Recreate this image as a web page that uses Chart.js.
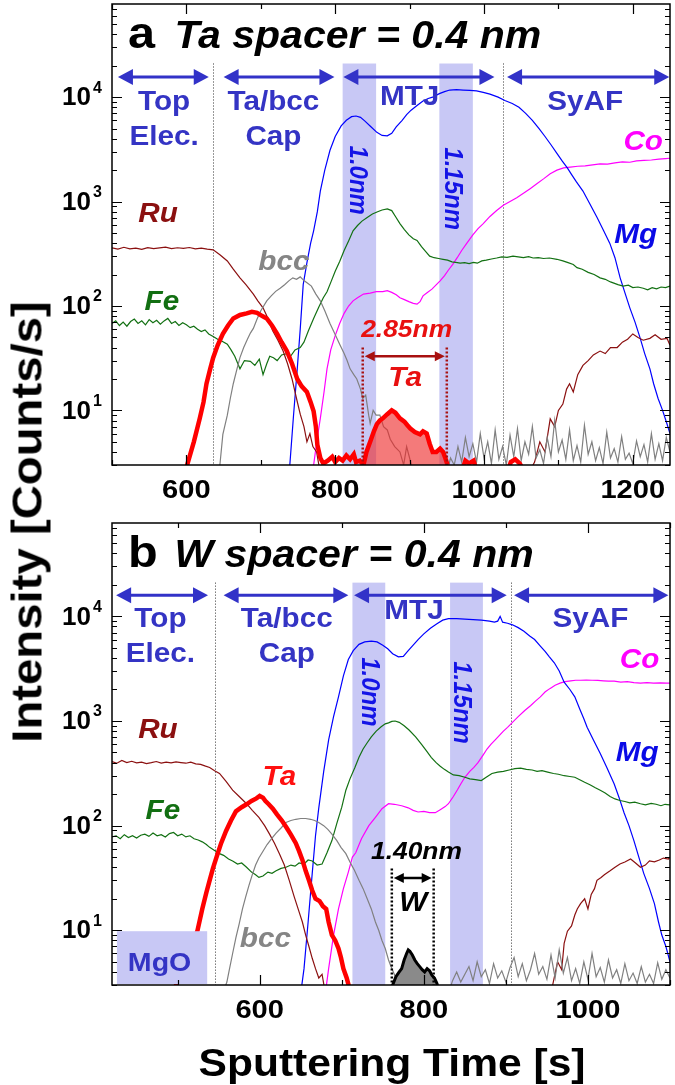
<!DOCTYPE html>
<html lang="en">
<head>
<meta charset="UTF-8">
<title>Depth profiles - Ta / W spacer</title>
<script src="https://cdn.jsdelivr.net/npm/chart.js"></script>
<style>
  body { margin: 0; background: #fff; width: 675px; height: 1085px; overflow: hidden; position: relative; font-family: 'Liberation Sans', Arial, sans-serif; }
  canvas { position: absolute; left: 0; }
  #chartA { top: 0; }
  #chartB { top: 505px; }
  .axis-title { position: absolute; font-weight: bold; color: #000; white-space: nowrap; }
  #yTitle { font-size: 43px; left: 27px; top: 522px; transform: translate(-50%, -50%) rotate(-90deg) scaleX(1.1); }
  #xTitle { font-size: 38px; left: 392px; top: 1063px; transform: translate(-50%, -50%) scaleX(1.12); }
</style>
</head>
<body>
<canvas id="chartA" width="675" height="505"></canvas>
<canvas id="chartB" width="675" height="580"></canvas>
<div class="axis-title" id="yTitle">Intensity [Counts/s]</div>
<div class="axis-title" id="xTitle">Sputtering Time [s]</div>

<script>
// ---- tick labels ----
const xTicksA = [600, 800, 1000, 1200];
const xTicksB = [600, 800, 1000];
const yTicks = [10, 100, 1000, 10000];

// ---- panel a : Ta spacer, [time s, counts/s] ----
const ruA = [[500,360],[508,350],[516,365],[524,352],[532,358],[540,348],[548,362],[556,355],[564,360],[572,366],[580,354],[588,361],[596,357],[604,363],[612,352],[620,358],[628,350],[636,345],[645,310],[655,270],[663,225],[672,186],[680,160],[690,130],[696,112],[703,96],[710,75],[716,58],[723,47],[730,37],[736,28],[742,20],[748,13],[753,9.2],[758,7],[762,5],[766,6],[770,4.5],[775,4],[780,2.5],[1060,2.5],[1068,3.2],[1075,5],[1082,4],[1089,8.3],[1095,7],[1100,10],[1106,11.5],[1111,16],[1115,18],[1120,15],[1126,22],[1133,27],[1140,30],[1147,34],[1156,37],[1163,35],[1170,40],[1179,40],[1186,45],[1193,48],[1200,54],[1207,50],[1214,47],[1223,49],[1230,53],[1238,48],[1246,49],[1250,42]];
const feA = [[500,68],[505,72],[510,65],[515,70],[520,64],[525,71],[530,75],[535,68],[540,72],[545,66],[550,74],[555,69],[560,73],[565,67],[570,72],[575,76],[580,68],[585,71],[590,65],[595,69],[600,66],[605,62],[610,64],[615,60],[620,57],[625,59],[630,54],[636,51],[642,48],[648,46],[655,43],[660,38],[665,33],[672,25],[678,30],[686,29.5],[692,27],[698,31],[703,22],[708,28],[712,33],[717,32],[722,30],[728,34],[735,35],[740,33],[746,38],[753,40],[758,45],[764,58],[771,76],[778,98],[784,120],[789,137],[795,175],[800,215],[806,267],[812,340],[818,420],[824,525],[830,590],[836,650],[843,705],[850,760],[857,800],[863,830],[870,850],[876,820],[881,720],[887,615],[893,540],[899,480],[905,440],[910,425],[916,370],[922,330],[927,300],[933,290],[939,285],[945,280],[951,275],[957,265],[962,262],[968,257],[974,260],[980,255],[986,262],[991,257],[997,270],[1003,275],[1010,282],[1017,288],[1024,295],[1031,292],[1039,300],[1046,295],[1053,290],[1060,297],[1066,288],[1073,290],[1080,285],[1088,288],[1098,280],[1106,270],[1113,260],[1120,250],[1125,233],[1132,225],[1140,210],[1148,200],[1156,186],[1163,180],[1170,170],[1180,160],[1187,155],[1194,158],[1200,150],[1207,152],[1214,148],[1220,143],[1226,150],[1232,146],[1238,152],[1244,150],[1250,155]];
const bccA = [[640,2.5],[645,3],[649,5.9],[655,9],[659,13],[663,18],[668,25],[672,32],[677,40],[682,48],[686,55],[690,61],[695,75],[700,90],[708,112],[714,125],[720,138],[726,148],[732,160],[738,175],[743,186],[748,180],[753,190],[758,175],[763,165],[768,155],[774,130],[780,112],[786,90],[793,68],[799,55],[806,43],[812,35],[816,30],[820,25],[825,22],[829,20],[834,16],[837,13],[841,14],[845,9],[847,7.5],[851,10],[855,9],[860,9],[865,7],[870,6.5],[874,5.3],[880,4.5],[887,4],[892,3],[896,4.5],[900,3.5],[905,2.5],[950,2.5],[955,3.5],[960,3],[965,4.5],[970,3.2],[975,5.5],[980,3.6],[985,4.8],[990,3.2],[995,6],[1000,3.5],[1005,5],[1010,3.1],[1015,6.5],[1020,3.4],[1025,4.5],[1030,3],[1035,5.8],[1040,3.6],[1045,6.7],[1050,3.3],[1055,5],[1060,3.8],[1065,7],[1070,3.5],[1075,4.2],[1080,3.1],[1085,5.5],[1090,3.6],[1095,8],[1100,4],[1105,5.2],[1110,3.4],[1115,6.5],[1120,3.3],[1125,4.6],[1130,3.2],[1135,7.2],[1140,3.8],[1145,5],[1150,3.3],[1155,4.4],[1160,3.1],[1165,6.2],[1170,3.5],[1175,4.3],[1180,3.2],[1185,5.6],[1190,3.4],[1195,3.9],[1200,3.1],[1205,5.1],[1210,3.6],[1215,4.7],[1220,3.2],[1225,6],[1230,3.4],[1235,4.8],[1240,3.3],[1245,5.5],[1250,4]];
const taA = [[596,2],[601,3],[610,5],[618,8.4],[623,12],[627,18],[632,25],[636,32],[642,42],[649,54],[656,65],[663,76],[672,82],[681,85],[688,88],[695,86],[702,80],[708,76],[715,65],[722,54],[728,45],[735,37],[742,28],[749,20],[755,17],[762,15],[767,12],[771,9.8],[774,7],[776,4.7],[780,3.5],[784,3.1],[790,3.3],[796,3.6],[800,3.2],[805,3.5],[810,3.3],[815,3.7],[820,3.4],[825,3.8],[828,3.2],[833,3.3],[838,3],[842,2],[965,2],[970,2.6],[975,3.3],[980,3.1],[986,3.3],[992,2.4],[1030,2.4],[1036,3.2],[1042,3.4],[1048,3.1],[1054,2.6],[1060,2]];
const taSpacerA = [[838,3],[842,4],[847,5],[852,6.3],[856,7.4],[860,8],[864,8.4],[870,9.2],[876,10],[881,9.5],[887,8.4],[893,7.8],[897,7.2],[901,6.7],[907,6.2],[914,5.9],[918,6.3],[923,6],[927,4.8],[931,4],[936,4],[941,4.3],[945,4],[948,3.5],[951,3]];
const mgA = [[735,2.5],[739,3],[744,9],[749,25],[753,60],[757,160],[762,260],[767,400],[771,525],[776,800],[780,1260],[786,2000],[793,3100],[800,4200],[808,5300],[815,6000],[822,6500],[828,6600],[834,6400],[840,5900],[848,5200],[856,4600],[863,4300],[870,4260],[876,4500],[882,5200],[890,6000],[896,6800],[902,7500],[910,8300],[918,9200],[925,9700],[931,10000],[940,10800],[947,11300],[954,11700],[963,11800],[972,11700],[981,11600],[990,11500],[999,11100],[1008,10700],[1019,10000],[1028,9300],[1038,8700],[1047,8000],[1056,7000],[1065,6000],[1074,5000],[1082,4200],[1090,3500],[1098,2900],[1105,2450],[1112,2100],[1118,1800],[1124,1550],[1133,1260],[1142,960],[1152,705],[1160,540],[1169,400],[1176,290],[1183,186],[1190,130],[1196,96],[1203,70],[1210,49],[1216,35],[1223,25],[1228,18],[1234,13],[1240,10],[1246,7.4],[1250,6]];
const coA = [[766,2],[771,3],[776,5.5],[780,8.4],[785,15],[789,25],[794,38],[800,52],[806,68],[812,85],[818,100],[824,112],[830,120],[838,130],[847,133],[855,137],[864,137],[870,140],[876,135],[882,128],[887,120],[893,115],[899,110],[905,106],[910,104],[914,110],[918,125],[923,133],[930,145],[936,160],[941,174],[947,195],[952,220],[958,250],[964,290],[970,340],[977,400],[985,480],[992,550],[999,615],[1008,720],[1017,820],[1026,920],[1035,1000],[1044,1090],[1053,1200],[1062,1330],[1071,1480],[1080,1650],[1089,1850],[1098,2000],[1107,2100],[1116,2140],[1126,2180],[1136,2200],[1146,2250],[1156,2300],[1166,2280],[1176,2350],[1186,2400],[1196,2380],[1205,2450],[1215,2480],[1225,2500],[1235,2550],[1244,2580],[1250,2600]];

// ---- panel b : W spacer ----
const ruB = [[420,410],[426,395],[432,420],[438,400],[444,412],[450,398],[456,405],[462,392],[468,400],[474,410],[480,396],[486,404],[492,398],[498,406],[504,400],[510,395],[516,405],[522,390],[528,385],[534,370],[539,360],[545,335],[551,316],[559,265],[567,218],[575,190],[584,162],[591,140],[599,120],[606,100],[612,83],[618,68],[624,54],[630,42],[636,30],[642,21],[648,15],[652,12],[656,9],[660,7],[664,5.4],[668,4.3],[672,3.5],[676,3.8],[680,2.5],[950,2.5],[957,3],[963,5],[968,4.2],[971,7.5],[975,9.8],[980,11],[984,14],[987,16],[991,18],[996,20],[1000,16],[1004,22],[1008,25],[1011,30],[1016,32],[1020,34],[1027,37],[1033,40],[1039,43],[1045,45],[1052,48],[1058,44],[1064,40],[1070,42],[1075,46],[1081,45],[1087,47],[1092,49],[1098,48],[1100,50]];
const feB = [[420,78],[425,80],[430,75],[435,82],[440,77],[445,80],[450,76],[455,81],[460,83],[465,79],[470,85],[475,80],[480,82],[485,78],[490,84],[495,86],[500,80],[505,83],[510,78],[515,80],[520,75],[525,73],[530,70],[535,66],[539,62],[545,58],[551,54],[556,52],[562,48],[567,46],[573,43],[578,44],[584,40],[590,36],[595,34],[599,32],[604,33],[610,36],[615,35],[620,37],[626,39],[632,40],[638,42],[643,41],[648,44],[654,43],[659,47],[664,46],[670,42],[676,43],[682,55],[688,72],[694,105],[700,150],[705,218],[710,280],[716,360],[721,450],[726,540],[731,620],[736,705],[742,800],[748,880],[753,940],[757,960],[761,990],[765,1000],[770,970],[776,900],[782,820],[790,705],[797,600],[803,520],[809,450],[815,400],[820,370],[825,345],[830,325],[836,305],[843,300],[850,290],[856,280],[863,275],[870,270],[876,290],[883,315],[890,325],[897,330],[904,340],[911,350],[918,355],[925,345],[932,340],[938,330],[944,335],[951,325],[958,315],[964,310],[971,300],[978,295],[984,290],[990,275],[996,260],[1003,245],[1009,230],[1015,218],[1021,205],[1027,190],[1033,180],[1039,174],[1045,170],[1051,165],[1057,168],[1064,162],[1070,158],[1077,163],[1083,160],[1089,155],[1094,160],[1100,158]];
const bccB = [[555,2.5],[560,3.2],[563,4.2],[567,6],[571,8.5],[575,11.5],[579,16],[583,21],[587,27],[591,34],[595,42],[599,49],[604,57],[609,66],[615,76],[620,85],[626,95],[632,107],[638,112],[644,115],[650,117],[656,117],[662,115],[667,112],[672,107],[678,100],[683,92],[688,83],[694,72],[699,62],[705,54],[710,45],[715,38],[721,30],[726,25],[731,20],[736,16],[741,12],[745,10],[749,8],[753,6.7],[757,5.2],[760,4.5],[764,3.8],[768,3.2],[772,2.5],[830,2.5],[835,3.3],[840,4],[845,3.2],[850,3.8],[855,4.5],[860,3.3],[865,5],[870,3.6],[875,4.2],[880,3.1],[885,4.8],[890,3.5],[895,4.1],[900,3.2],[905,4.4],[910,5.5],[915,3.6],[920,4.8],[925,3.3],[930,4.2],[935,6],[940,3.8],[945,4.5],[950,3.4],[955,5.8],[960,3.5],[965,6.5],[970,3.9],[975,5.5],[980,3.3],[985,4.3],[990,3.1],[995,5],[1000,3.4],[1005,6],[1010,3.6],[1015,4.4],[1020,3.2],[1025,5.2],[1030,3.5],[1035,4.2],[1040,3.1],[1045,4.8],[1050,3.3],[1055,3.9],[1060,3.1],[1065,4.5],[1070,3.2],[1075,3.8],[1080,3.1],[1085,4.9],[1090,3.4],[1095,4.2],[1100,3.5]];
const taB = [[495,2],[498,3],[505,4],[512,5.5],[518,7.5],[524,9.8],[530,16],[535,23],[539,30],[543,39],[547,49],[553,68],[559,89],[565,112],[571,137],[578,150],[584,160],[590,172],[596,182],[600,192],[604,185],[607,172],[611,160],[616,145],[621,128],[627,112],[633,95],[638,82],[644,68],[648,57],[652,47],[656,37],[660,30],[664,24],[668,20],[673,19],[677,17],[681,16],[684,12],[688,9],[692,8],[696,6.7],[699,5.5],[702,4.3],[706,3.5],[711,2.5]];
const wB = [[758,2.5],[762,3],[766,3.6],[770,4],[773,4.3],[776,5.2],[779,6],[781,6.5],[783,6.3],[786,5.8],[789,5.2],[792,4.8],[795,4.5],[798,4.2],[801,4],[804,4.3],[807,4.1],[810,3.7],[813,3.5],[816,3.1],[819,2.5]];
const mgB = [[650,2.5],[654,4.3],[659,12],[664,35],[668,80],[672,148],[678,330],[684,660],[690,1100],[696,1700],[702,2700],[708,3870],[714,4700],[721,5400],[728,5700],[736,5800],[743,5700],[750,5300],[756,4900],[762,4400],[769,4100],[775,4150],[781,4700],[787,5300],[793,6000],[800,6800],[808,7700],[816,8500],[823,9200],[830,9500],[840,9500],[850,9400],[860,9300],[870,9200],[880,9000],[886,8800],[890,9000],[893,10000],[896,8800],[902,8600],[908,8300],[915,7800],[922,7200],[929,6500],[935,6000],[942,5200],[948,4600],[953,4100],[959,3600],[965,3000],[971,2350],[978,2000],[984,1700],[990,1300],[995,1050],[999,870],[1007,650],[1015,490],[1023,360],[1032,250],[1038,185],[1044,133],[1050,100],[1056,72],[1062,50],[1068,35],[1075,25],[1081,18],[1086,12],[1090,9],[1095,7],[1100,5]];
const coB = [[680,2.5],[684,4.3],[690,9],[696,16],[702,25],[708,36],[713,50],[717,55],[724,75],[733,100],[741,120],[749,145],[757,162],[764,160],[773,155],[781,148],[787,140],[793,135],[800,137],[807,133],[814,133],[820,142],[826,152],[830,162],[836,190],[841,220],[845,250],[850,290],[856,330],[861,360],[866,400],[872,470],[877,540],[882,600],[887,660],[893,740],[897,800],[902,870],[908,970],[915,1100],[923,1260],[930,1400],[936,1550],[942,1700],[948,1900],[954,2050],[960,2200],[966,2300],[972,2380],[979,2420],[985,2450],[991,2450],[998,2460],[1005,2450],[1012,2440],[1019,2420],[1025,2400],[1032,2400],[1040,2350],[1048,2380],[1056,2330],[1064,2300],[1072,2330],[1080,2300],[1088,2310],[1096,2300],[1100,2300]];

const Y_MIN = 3, Y_MAX = 78000;
const FONT = "'Liberation Sans', Arial, sans-serif";
const BLUE_TXT = '#3434C4';
const BAND = 'rgb(200,200,245)';
const STRETCH = 1.1; // the lettering in the figure is slightly wide

const pts = arr => arr.map(([x, y]) => ({ x, y }));
const line = (arr, color, width, extra) => Object.assign({ data: pts(arr), borderColor: color, borderWidth: width, fill: false }, extra || {});

function text(ctx, str, px, py, font, color, align, rot, sx) {
  ctx.save();
  ctx.translate(px, py);
  ctx.scale(sx || STRETCH, 1);
  if (rot) ctx.rotate(rot);
  ctx.font = font;
  ctx.fillStyle = color;
  ctx.textAlign = align || 'center';
  ctx.textBaseline = 'middle';
  ctx.fillText(str, 0, 0);
  ctx.restore();
}

function hArrow(ctx, x0, x1, py, color, lw, head, half) {
  ctx.save();
  ctx.strokeStyle = color; ctx.fillStyle = color; ctx.lineWidth = lw;
  ctx.beginPath(); ctx.moveTo(x0 + head * 0.8, py); ctx.lineTo(x1 - head * 0.8, py); ctx.stroke();
  ctx.beginPath(); ctx.moveTo(x0, py); ctx.lineTo(x0 + head, py - half); ctx.lineTo(x0 + head, py + half); ctx.closePath(); ctx.fill();
  ctx.beginPath(); ctx.moveTo(x1, py); ctx.lineTo(x1 - head, py - half); ctx.lineTo(x1 - head, py + half); ctx.closePath(); ctx.fill();
  ctx.restore();
}

function vDots(ctx, px, y0, y1, color, lw, dash) {
  ctx.save();
  ctx.strokeStyle = color; ctx.lineWidth = lw; ctx.setLineDash(dash);
  ctx.beginPath(); ctx.moveTo(px, y0); ctx.lineTo(px, y1); ctx.stroke();
  ctx.restore();
}

// decorations for one panel: bands, region arrows, labels, frame and ticks
function decor(spec) {
  return {
    id: 'decor' + spec.name,
    beforeDatasetsDraw(chart) {
      const { ctx, chartArea: a, scales: { x, y } } = chart;
      const top = y.getPixelForValue(spec.bandTop);
      ctx.save();
      ctx.fillStyle = BAND;
      spec.bands.forEach(([b0, b1]) => {
        const p0 = x.getPixelForValue(b0), p1 = x.getPixelForValue(b1);
        ctx.fillRect(p0, top, p1 - p0, a.bottom - top);
      });
      ctx.restore();
      spec.dividers.forEach(v => vDots(ctx, Math.round(x.getPixelForValue(v)) + 0.5, top, a.bottom, '#333', 1, [1, 2]));
    },
    afterDatasetsDraw(chart) {
      const { ctx, chartArea: a, scales: { x, y } } = chart;
      if (spec.box) {
        const b = spec.box;
        const p0 = x.getPixelForValue(b.x0), p1 = x.getPixelForValue(b.x1), t = y.getPixelForValue(b.top);
        ctx.save(); ctx.fillStyle = BAND; ctx.fillRect(p0, t, p1 - p0, a.bottom - t - 1); ctx.restore();
      }
      const ay = y.getPixelForValue(spec.arrowY);
      spec.arrows.forEach(([r0, r1]) => hArrow(ctx, x.getPixelForValue(r0), x.getPixelForValue(r1), ay, '#3232C8', 3, 15, 8));
      const m = spec.marker;
      const m0 = x.getPixelForValue(m.x0), m1 = x.getPixelForValue(m.x1), mt = y.getPixelForValue(m.top);
      vDots(ctx, m0, mt, a.bottom, m.color, 2.5, [2, 2]);
      vDots(ctx, m1, mt, a.bottom, m.color, 2.5, [2, 2]);
      hArrow(ctx, m0 + 2, m1 - 2, y.getPixelForValue(m.y), m.color, 2.5, 10, 5);
      spec.labels.forEach(l => text(ctx, l.t, x.getPixelForValue(l.x), y.getPixelForValue(l.y), l.font, l.color, 'center', l.rot));
    },
    afterDraw(chart) {
      const { ctx, chartArea: a, scales: { x, y } } = chart;
      ctx.save();
      ctx.strokeStyle = '#000'; ctx.lineWidth = 1.5;
      ctx.strokeRect(a.left, a.top, a.right - a.left, a.bottom - a.top);
      ctx.lineWidth = 1.2;
      ctx.beginPath();
      for (let v = Math.ceil(spec.xMin / 100) * 100; v <= spec.xMax; v += 100) {
        const p = Math.round(x.getPixelForValue(v)) + 0.5, len = v % 200 === 0 ? 10 : 5;
        ctx.moveTo(p, a.bottom); ctx.lineTo(p, a.bottom - len);
        ctx.moveTo(p, a.top); ctx.lineTo(p, a.top + len);
      }
      for (let d = 1; d <= 10000; d *= 10) {
        for (let k = 1; k <= 9; k++) {
          const v = d * k;
          if (v < Y_MIN || v > Y_MAX) continue;
          const p = Math.round(y.getPixelForValue(v)) + 0.5, len = k === 1 ? 10 : 5;
          ctx.moveTo(a.left, p); ctx.lineTo(a.left + len, p);
          ctx.moveTo(a.right, p); ctx.lineTo(a.right - len, p);
        }
      }
      ctx.stroke();
      ctx.restore();
      spec.xTicks.forEach(v => text(ctx, String(v), x.getPixelForValue(v), a.bottom + 26, 'bold 26px ' + FONT, '#000', 'center', 0, 1.12));
      yTicks.forEach(v => {
        const p = y.getPixelForValue(v);
        text(ctx, '10', a.left - 21, p + 1, 'bold 26px ' + FONT, '#000', 'right', 0, 1);
        text(ctx, String(Math.round(Math.log10(v))), a.left - 19, p - 9, 'bold 16px ' + FONT, '#000', 'left', 0, 1);
      });
      ctx.save();
      ctx.fillStyle = '#000'; ctx.textBaseline = 'alphabetic'; ctx.textAlign = 'left';
      ctx.translate(a.left + 16, a.top + 44);
      ctx.scale(1.08, 1);
      ctx.font = 'bold 45px ' + FONT;
      ctx.fillText(spec.title[0], 0, 0);
      ctx.font = 'italic bold 38px ' + FONT;
      ctx.fillText(spec.title[1], 43, 0);
      ctx.restore();
    }
  };
}

const REG = 'bold 27px ' + FONT;
const EL = 'italic bold 27px ' + FONT;
const NM = 'italic bold 24px ' + FONT;

const specA = {
  name: 'A', xMin: 500, xMax: 1250, xTicks: xTicksA,
  padding: { left: 0, right: 5, top: 4, bottom: 0 }, xAxisHeight: 40,
  bands: [[810, 855], [940, 985]], bandTop: 21000,
  dividers: [636, 1026],
  arrows: [[508, 630], [650, 799], [811, 1014], [1031, 1249]], arrowY: 15600,
  marker: { x0: 837, x1: 950, y: 33, top: 40, color: '#A81010' },
  title: ['a', 'Ta spacer = 0.4 nm'],
  labels: [
    { t: 'Top', x: 570, y: 8950, font: REG, color: BLUE_TXT },
    { t: 'Elec.', x: 570, y: 4120, font: REG, color: BLUE_TXT },
    { t: 'Ta/bcc', x: 717, y: 8950, font: REG, color: BLUE_TXT },
    { t: 'Cap', x: 717, y: 4120, font: REG, color: BLUE_TXT },
    { t: 'MTJ', x: 900, y: 10000, font: REG, color: BLUE_TXT },
    { t: 'SyAF', x: 1136, y: 8950, font: REG, color: BLUE_TXT },
    { t: '1.0nm', x: 830, y: 1600, font: NM, color: '#1414E6', rot: Math.PI / 2 },
    { t: '1.15nm', x: 958, y: 1330, font: NM, color: '#1414E6', rot: Math.PI / 2 },
    { t: 'Ru', x: 562, y: 750, font: EL, color: '#8B1010' },
    { t: 'Fe', x: 567, y: 107, font: EL, color: '#126F12' },
    { t: 'bcc', x: 731, y: 260, font: EL, color: '#858585' },
    { t: 'Co', x: 1214, y: 3690, font: EL, color: '#FF00FF' },
    { t: 'Mg', x: 1204, y: 470, font: EL, color: '#0A0AE6' },
    { t: '2.85nm', x: 896, y: 58, font: NM, color: '#E81010' },
    { t: 'Ta', x: 894, y: 20, font: EL, color: '#E81010' }
  ],
  datasets: [
    line(taA, '#FF0000', 4.5),
    line(taSpacerA, '#FF0000', 4.5, { fill: 'start', backgroundColor: 'rgba(238,40,40,0.62)' }),
    line(bccA, '#808080', 1.2),
    line(ruA, '#8B1010', 1.2),
    line(feA, '#127012', 1.2),
    line(mgA, '#0000FF', 1.2),
    line(coA, '#FF00FF', 1.2)
  ]
};

const specB = {
  name: 'B', xMin: 420, xMax: 1100, xTicks: xTicksB,
  padding: { left: 0, right: 5, top: 18, bottom: 0 }, xAxisHeight: 100,
  bands: [[713, 753], [832, 872]], bandTop: 21000,
  dividers: [546, 906],
  arrows: [[425, 537], [556, 708], [715, 901], [910, 1098]], arrowY: 15900,
  marker: { x0: 761, x1: 812, y: 31.6, top: 39, color: '#000' },
  box: { x0: 426, x1: 536, top: 9.8 },
  title: ['b', 'W spacer = 0.4 nm'],
  labels: [
    { t: 'Top', x: 479, y: 9360, font: REG, color: BLUE_TXT },
    { t: 'Elec.', x: 479, y: 4310, font: REG, color: BLUE_TXT },
    { t: 'Ta/bcc', x: 633, y: 9360, font: REG, color: BLUE_TXT },
    { t: 'Cap', x: 633, y: 4310, font: REG, color: BLUE_TXT },
    { t: 'MTJ', x: 788, y: 11200, font: REG, color: BLUE_TXT },
    { t: 'SyAF', x: 1003, y: 9360, font: REG, color: BLUE_TXT },
    { t: '1.0nm', x: 733, y: 1900, font: NM, color: '#1414E6', rot: Math.PI / 2 },
    { t: '1.15nm', x: 846, y: 1500, font: NM, color: '#1414E6', rot: Math.PI / 2 },
    { t: 'Ru', x: 476, y: 815, font: EL, color: '#8B1010' },
    { t: 'Fe', x: 482, y: 136, font: EL, color: '#126F12' },
    { t: 'Ta', x: 624, y: 290, font: EL, color: '#FF1010' },
    { t: 'bcc', x: 607, y: 8.2, font: EL, color: '#858585' },
    { t: 'Co', x: 1063, y: 3780, font: EL, color: '#FF00FF' },
    { t: 'Mg', x: 1060, y: 490, font: EL, color: '#0A0AE6' },
    { t: '1.40nm', x: 791, y: 55, font: NM, color: '#000' },
    { t: 'W', x: 787, y: 18, font: EL, color: '#000' },
    { t: 'MgO', x: 478, y: 4.8, font: 'bold 26px ' + FONT, color: BLUE_TXT }
  ],
  datasets: [
    line(taB, '#FF0000', 4.5),
    line(wB, '#000000', 3, { fill: 'start', backgroundColor: '#8A8A8A' }),
    line(bccB, '#808080', 1.2),
    line(ruB, '#8B1010', 1.2),
    line(feB, '#127012', 1.2),
    line(mgB, '#0000FF', 1.2),
    line(coB, '#FF00FF', 1.2)
  ]
};

function makeChart(id, spec) {
  return new Chart(document.getElementById(id), {
    type: 'line',
    data: { datasets: spec.datasets },
    options: {
      responsive: false,
      animation: false,
      events: [],
      layout: { padding: spec.padding },
      plugins: { legend: { display: false }, tooltip: { enabled: false } },
      elements: { point: { radius: 0 }, line: { tension: 0 } },
      scales: {
        x: {
          type: 'linear', min: spec.xMin, max: spec.xMax,
          grid: { display: false }, border: { display: false }, ticks: { display: false },
          afterFit: s => { s.height = spec.xAxisHeight; }
        },
        y: {
          type: 'logarithmic', min: Y_MIN, max: Y_MAX,
          grid: { display: false }, border: { display: false }, ticks: { display: false },
          afterFit: s => { s.width = 112; }
        }
      }
    },
    plugins: [decor(spec)]
  });
}

makeChart('chartA', specA);
makeChart('chartB', specB);
</script>
</body>
</html>
